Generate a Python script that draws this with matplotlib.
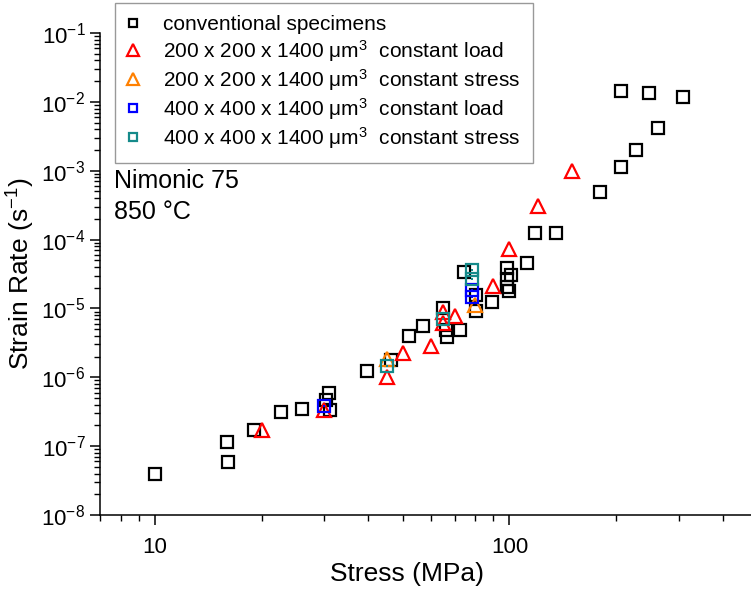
import numpy as np
import matplotlib.pyplot as plt
from matplotlib.ticker import FixedLocator, NullFormatter, LogLocator, LogFormatterSciNotation

plt.rcParams['font.family'] = ['Liberation Sans', 'DejaVu Sans']
plt.rcParams['mathtext.fontset'] = 'custom'
plt.rcParams['mathtext.rm'] = 'Liberation Sans'
plt.rcParams['mathtext.it'] = 'Liberation Sans:italic'
plt.rcParams['mathtext.bf'] = 'Liberation Sans:bold'

# conventional creep specimens
conv_stress = [10, 16, 16.1, 19.05, 22.7, 26.0, 31.0, 31.2, 30.4, 39.7, 46.4, 52.2, 57.1,
               65.1, 66.4, 66.8, 72.7, 74.6, 80.7, 80.7, 89.0, 98.7, 101.3, 98.7, 98.7, 99.4,
               111.7, 118.4, 134.9, 179.6, 205.9, 226.9, 261.8, 205.9, 246.9, 308]
conv_rate = [4.0e-8, 1.15e-7, 5.9e-8, 1.72e-7, 3.13e-7, 3.47e-7, 5.92e-7, 3.35e-7, 4.68e-7,
             1.23e-6, 1.78e-6, 3.98e-6, 5.56e-6, 1.01e-5, 4.86e-6, 3.85e-6, 4.86e-6, 3.38e-5,
             1.57e-5, 9.2e-6, 1.24e-5, 3.87e-5, 3.06e-5, 2.68e-5, 2.05e-5, 1.79e-5, 4.57e-5,
             1.25e-4, 1.25e-4, 4.91e-4, 1.13e-3, 2.0e-3, 4.17e-3, 1.44e-2, 1.35e-2, 1.18e-2]

# 200 x 200 x 1400 um^3 micro specimens
s200_load_stress = [20, 30, 45, 50, 60, 65, 65, 70, 90, 100, 120, 150]
s200_load_rate = [1.72e-7, 3.35e-7, 1.01e-6, 2.25e-6, 2.85e-6, 8.9e-6, 6.1e-6, 7.76e-6,
                  2.11e-5, 7.3e-5, 3.07e-4, 9.9e-4]
s200_stress_stress = [45, 80]
s200_stress_rate = [1.85e-6, 1.12e-5]

# 400 x 400 x 1400 um^3 micro specimens
s400_load_stress = [30, 78.6, 78.6]
s400_load_rate = [3.83e-7, 1.85e-5, 1.47e-5]
s400_stress_stress = [45, 65, 78.6, 78.6]
s400_stress_rate = [1.46e-6, 7.0e-6, 3.6e-5, 2.68e-5]

labels = ['conventional specimens',
          '200 x 200 x 1400 \u03bcm$^3$  constant load',
          '200 x 200 x 1400 \u03bcm$^3$  constant stress',
          '400 x 400 x 1400 \u03bcm$^3$  constant load',
          '400 x 400 x 1400 \u03bcm$^3$  constant stress']

fig = plt.figure(figsize=(7.51, 5.89), dpi=100)
ax = fig.add_axes([100/751, 74/589, 651/751, 482/589])

teal = '#158a8a'
ax.plot(conv_stress, conv_rate, 's', ms=8, mfc='none', mec='black', mew=1.6, label=labels[0])
ax.plot(s200_load_stress, s200_load_rate, '^', ms=10, mfc='none', mec='red', mew=1.6, label=labels[1])
ax.plot(s200_stress_stress, s200_stress_rate, '^', ms=10, mfc='none', mec='#ff8000', mew=1.6,
        label=labels[2])
ax.plot(s400_load_stress, s400_load_rate, 's', ms=8, mfc='none', mec='blue', mew=1.6, label=labels[3])
ax.plot(s400_load_stress, s400_load_rate, 's', ms=1.6, mfc='blue', mec='blue', mew=0)
ax.plot(s400_stress_stress, s400_stress_rate, 's', ms=8, mfc='none', mec=teal, mew=1.6, label=labels[4])
ax.plot(s400_stress_stress, s400_stress_rate, 's', ms=1.6, mfc=teal, mec=teal, mew=0)

ax.set_xscale('log')
ax.set_yscale('log')
ax.set_xlim(7, 480)
ax.set_ylim(1e-8, 1e-1)

ax.xaxis.set_major_locator(FixedLocator([10, 100]))
ax.set_xticklabels(['10', '100'])
ax.xaxis.set_minor_locator(FixedLocator([7, 8, 9, 20, 30, 40, 50, 60, 70, 80, 90, 200, 300, 400]))
ax.xaxis.set_minor_formatter(NullFormatter())
ax.yaxis.set_major_locator(LogLocator(base=10, numticks=20))
ax.yaxis.set_major_formatter(LogFormatterSciNotation())
ax.yaxis.set_minor_locator(LogLocator(base=10, subs=np.arange(2, 10), numticks=20))
ax.yaxis.set_minor_formatter(NullFormatter())

ax.spines['top'].set_visible(False)
ax.spines['right'].set_visible(False)
for sp in ('left', 'bottom'):
    ax.spines[sp].set_linewidth(1.1)
ax.tick_params(which='major', length=7, width=1.1, labelsize=16, direction='out')
ax.tick_params(which='minor', length=4, width=1.0, direction='out')
ax.tick_params(axis='x', which='major', pad=9)

ax.set_xlabel('Stress (MPa)', fontsize=19)
ax.set_ylabel('Strain Rate (s$^{-1}$)', fontsize=19)
ax.xaxis.set_label_coords(307/651, -47/482)
ax.yaxis.set_label_coords(-63/651, 0.5)

fig.text(114/751, 1 - 169/589, 'Nimonic 75\n850 \u00b0C', fontsize=18, va='top', ha='left',
         linespacing=1.35)

leg = ax.legend(loc='upper left', bbox_to_anchor=(115/751, 1 - 3/589), bbox_transform=fig.transFigure,
                fontsize=15, frameon=True, fancybox=False, borderaxespad=0, borderpad=0.6,
                handlelength=0.5, handletextpad=1.2, labelspacing=0.15, markerscale=0.8)
leg.get_frame().set_edgecolor('#808080')
leg.get_frame().set_linewidth(1.0)

fig.savefig('out.png', dpi=100)
